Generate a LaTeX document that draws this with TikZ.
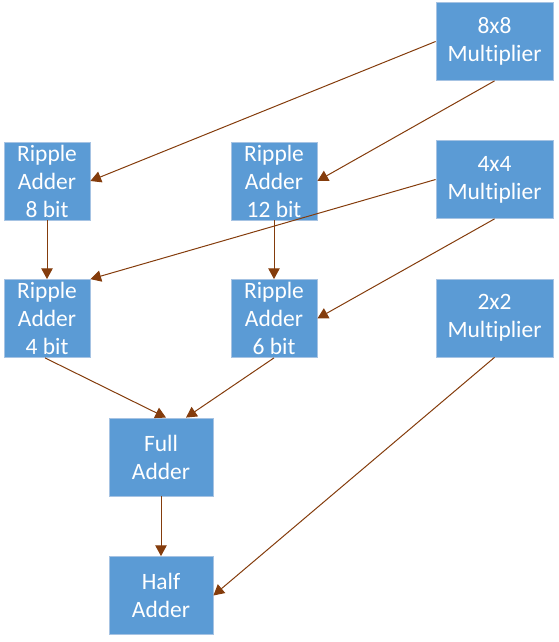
\documentclass[tikz,border=0pt]{standalone}
\usepackage{fontspec}
\setmainfont{Carlito}[Ligatures=NoCommon]
\usetikzlibrary{arrows.meta}
\definecolor{boxfill}{HTML}{5B9BD5}
\definecolor{boxline}{HTML}{A6C3E3}
\definecolor{arr}{HTML}{843C0C}
\tikzset{
  blk/.style={draw=boxline, line width=0.6pt, fill=boxfill, text=white, align=center,
    inner sep=0pt, minimum height=58.5pt,
    font=\fontsize{17.6}{21}\selectfont},
  mult/.style={blk, minimum width=87.75pt},
  rip/.style={blk, minimum width=64.5pt},
  add/.style={blk, minimum width=78pt},
  conn/.style={draw=arr, line width=0.75pt, -{Triangle[length=8pt,width=8.5pt]}}
}
\begin{document}
\begin{tikzpicture}[x=0.75pt,y=-0.75pt]
\useasboundingbox (0,0) rectangle (559,642);
\node[mult] (m8) at (494.5,41.5) {8x8\\Multiplier};
\node[mult] (m4) at (494.5,179.5) {4x4\\Multiplier};
\node[mult] (m2) at (494.5,318) {2x2\\Multiplier};
\node[rip] (r8) at (47,181) {Ripple\\Adder\\8 bit};
\node[rip] (r12) at (274,181) {Ripple\\Adder\\12 bit};
\node[rip] (r4) at (47,318.5) {Ripple\\Adder\\4 bit};
\node[rip] (r6) at (274,318.5) {Ripple\\Adder\\6 bit};
\node[add] (fa) at (161,457) {Full\\Adder};
\node[add] (ha) at (161,595.5) {Half\\Adder};
\draw[conn] (m8.west) -- (r8.east);
\draw[conn] (m8.south) -- (r12.east);
\draw[conn] (m4.west) -- (r4.north east);
\draw[conn] (m4.south) -- (r6.east);
\draw[conn] (m2.south) -- (ha.east);
\draw[conn] (r8.south) -- (r4.north);
\draw[conn] (r12.south) -- (r6.north);
\draw[conn] ([xshift=-1.5pt]r4.south) -- ([xshift=3.75pt]fa.north);
\draw[conn] (r6.south) -- ([xshift=18.75pt]fa.north);
\draw[conn] (fa.south) -- (ha.north);
\end{tikzpicture}
\end{document}
